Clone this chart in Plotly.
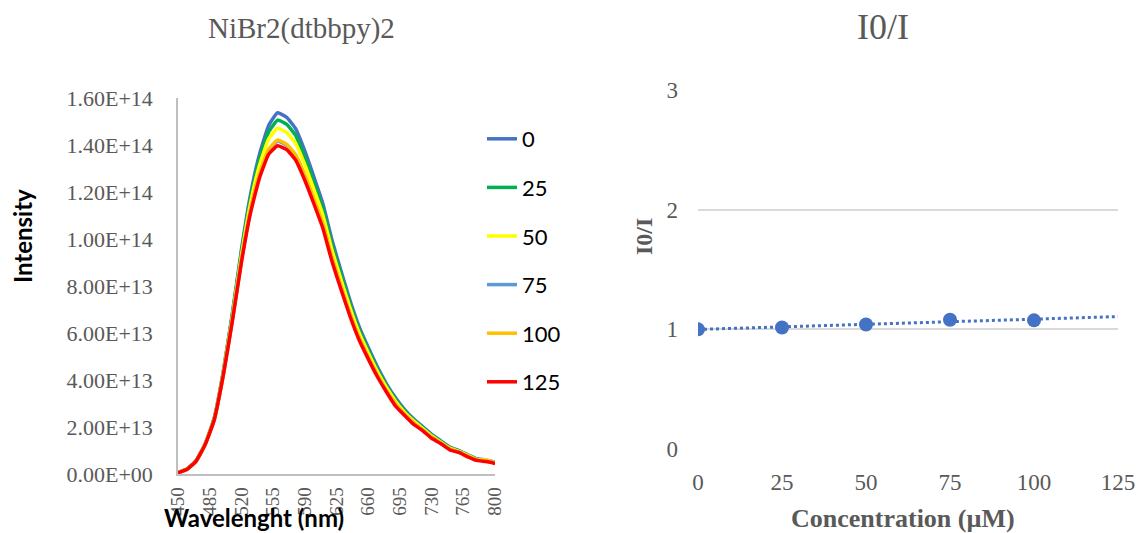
import plotly.graph_objects as go
import numpy as np

# ---------------- Data ----------------
wavelength = [450, 460, 470, 480, 490, 500, 510, 520, 530, 540, 550, 560, 570, 580, 590, 600,
              610, 620, 630, 640, 650, 660, 670, 680, 690, 700, 710, 720, 730, 740, 750, 760,
              770, 780, 790, 800]

# intensities in units of 1e13
int_0 = [0.06, 0.21, 0.57, 1.29, 2.38, 4.37, 6.83, 9.54, 11.88, 13.61, 14.82, 15.37, 15.18, 14.69,
         13.75, 12.65, 11.50, 9.96, 8.64, 7.37, 6.27, 5.39, 4.57, 3.85, 3.25, 2.75, 2.35, 2.02,
         1.69, 1.42, 1.15, 1.00, 0.82, 0.64, 0.60, 0.50]
int_25 = [0.05, 0.21, 0.56, 1.28, 2.36, 4.33, 6.76, 9.42, 11.71, 13.39, 14.55, 15.06, 14.88, 14.40,
          13.48, 12.40, 11.27, 9.76, 8.47, 7.22, 6.14, 5.28, 4.48, 3.77, 3.18, 2.70, 2.31, 1.98,
          1.66, 1.39, 1.13, 0.98, 0.80, 0.63, 0.59, 0.49]
int_50 = [0.05, 0.20, 0.56, 1.27, 2.34, 4.29, 6.67, 9.29, 11.51, 13.14, 14.25, 14.71, 14.53, 14.06,
          13.16, 12.11, 11.01, 9.53, 8.27, 7.06, 6.00, 5.16, 4.37, 3.69, 3.11, 2.63, 2.26, 1.94,
          1.62, 1.36, 1.10, 0.96, 0.79, 0.61, 0.60, 0.48]
int_75 = [0.05, 0.20, 0.55, 1.26, 2.31, 4.22, 6.55, 9.08, 11.21, 12.74, 13.77, 14.17, 13.99, 13.54,
          12.68, 11.66, 10.60, 9.18, 7.96, 6.79, 5.78, 4.97, 4.21, 3.55, 2.99, 2.54, 2.18, 1.87,
          1.57, 1.32, 1.06, 0.93, 0.76, 0.59, 0.56, 0.46]
int_100 = [0.05, 0.20, 0.55, 1.26, 2.31, 4.23, 6.56, 9.09, 11.23, 12.77, 13.81, 14.21, 14.03, 13.58,
           12.71, 11.70, 10.63, 9.20, 7.98, 6.81, 5.80, 4.98, 4.22, 3.56, 3.00, 2.54, 2.18, 1.88,
           1.57, 1.32, 1.07, 0.93, 0.77, 0.59, 0.58, 0.46]
int_125 = [0.05, 0.20, 0.55, 1.25, 2.30, 4.20, 6.50, 9.00, 11.10, 12.60, 13.60, 13.97, 13.80, 13.35,
           12.50, 11.50, 10.45, 9.05, 7.85, 6.70, 5.70, 4.90, 4.15, 3.50, 2.90, 2.50, 2.12, 1.85,
           1.52, 1.30, 1.03, 0.92, 0.73, 0.58, 0.53, 0.45]

series_names = ["0", "25", "50", "75", "100", "125"]
series_colors = ["#4472C4", "#00B050", "#FFFF00", "#5B9BD5", "#FFC000", "#FF0000"]
series_values = [int_0, int_25, int_50, int_75, int_100, int_125]

wl_ticks = [450, 485, 520, 555, 590, 625, 660, 695, 730, 765, 800]
int_ticks = [0, 2, 4, 6, 8, 10, 12, 14, 16]
int_ticktext = ["0.00E+00", "2.00E+13", "4.00E+13", "6.00E+13", "8.00E+13",
                "1.00E+14", "1.20E+14", "1.40E+14", "1.60E+14"]

concentration = [0, 25, 50, 75, 100]
i0_over_i = [1.0, 1.015, 1.04, 1.08, 1.075]
conc_ticks = [0, 25, 50, 75, 100, 125]
ratio_ticks = [0, 1, 2, 3]

# ---------------- Figure ----------------
fig = go.Figure()

serif = "Liberation Serif"
sans = "Lato"
grey_txt = "#595959"

for name, col, vals in zip(series_names, series_colors, series_values):
    fig.add_trace(go.Scatter(
        x=wavelength, y=vals, mode="lines", name=name, legendgroup=name,
        line=dict(color=col, width=3.5, shape="spline", smoothing=0.4),
        xaxis="x", yaxis="y"))

# I0/I points
fig.add_trace(go.Scatter(
    x=concentration, y=i0_over_i, mode="markers", showlegend=False,
    marker=dict(color="#4472C4", size=14), xaxis="x2", yaxis="y2"))

# linear trendline (least squares) extended to 125
slope, intercept = np.polyfit(concentration, i0_over_i, 1)
trend_x = [0, 125]
trend_y = [intercept + slope * t for t in trend_x]
fig.add_trace(go.Scatter(
    x=trend_x, y=trend_y, mode="lines", showlegend=False,
    line=dict(color="#4472C4", width=3, dash="dot"), xaxis="x2", yaxis="y2"))

W, H = 1141, 533


def px(x):
    return x / W


def py(y):
    return 1 - y / H


def ann(text, x, y, font, angle=0):
    return dict(text=text, x=px(x), y=py(y), xref="paper", yref="paper",
                xanchor="center", yanchor="middle", showarrow=False,
                textangle=angle, font=font)


fig.update_layout(
    width=W, height=H,
    margin=dict(l=0, r=0, t=0, b=0, pad=0, autoexpand=False),
    paper_bgcolor="white", plot_bgcolor="white",
    showlegend=True,
    legend=dict(x=px(482), y=py(118), xanchor="left", yanchor="top",
                font=dict(family=sans, size=22, color="black"),
                tracegroupgap=17, bgcolor="rgba(0,0,0,0)"),
    xaxis=dict(domain=[px(178), px(495)], range=[450, 800], tickvals=wl_ticks,
               tickangle=-90, showgrid=False, zeroline=False, automargin=False,
               showline=True, linecolor="#bfbfbf", linewidth=1.5,
               tickfont=dict(family=serif, size=19, color=grey_txt),
               ticks="", ticklabelstandoff=4, anchor="y"),
    yaxis=dict(domain=[py(474), py(98)], range=[0, 16],
               tickvals=int_ticks, ticktext=int_ticktext, automargin=False,
               showgrid=False, zeroline=False,
               showline=True, linecolor="#bfbfbf", linewidth=1.5,
               tickfont=dict(family=serif, size=22, color=grey_txt),
               ticks="", ticklabelstandoff=19, anchor="x"),
    xaxis2=dict(domain=[px(698), px(1118)], range=[0, 125], tickvals=conc_ticks,
                showgrid=False, zeroline=False, showline=False, automargin=False,
                tickfont=dict(family=serif, size=23, color=grey_txt),
                ticks="", ticklabelstandoff=17, anchor="y2"),
    yaxis2=dict(domain=[py(449), py(90)], range=[0, 3],
                tickvals=ratio_ticks, showgrid=True, gridcolor="#d9d9d9", gridwidth=1.5,
                zeroline=False, showline=False, automargin=False,
                tickfont=dict(family=serif, size=23, color=grey_txt),
                ticks="", ticklabelstandoff=19, anchor="x2"),
    annotations=[
        ann("NiBr2(dtbbpy)2", 301, 28, dict(family=serif, size=29, color=grey_txt)),
        ann("I0/I", 883, 27, dict(family=serif, size=36, color=grey_txt)),
        ann("<b>Intensity</b>", 22, 236, dict(family=sans, size=24, color="black"), -90),
        ann("<b>Wavelenght (nm)</b>", 254, 517, dict(family=sans, size=24, color="black")),
        ann("<b>Concentration (µM)</b>", 903, 518, dict(family=serif, size=26, color=grey_txt)),
        ann("<b>I0/I</b>", 644, 237, dict(family=serif, size=24, color=grey_txt), -90),
    ],
)

# remove the browser's default page margin so the figure fills the window exactly
fig.write_html("out.html", config={"displayModeBar": False},
               post_script="document.body.style.margin='0';document.body.style.overflow='hidden';")
